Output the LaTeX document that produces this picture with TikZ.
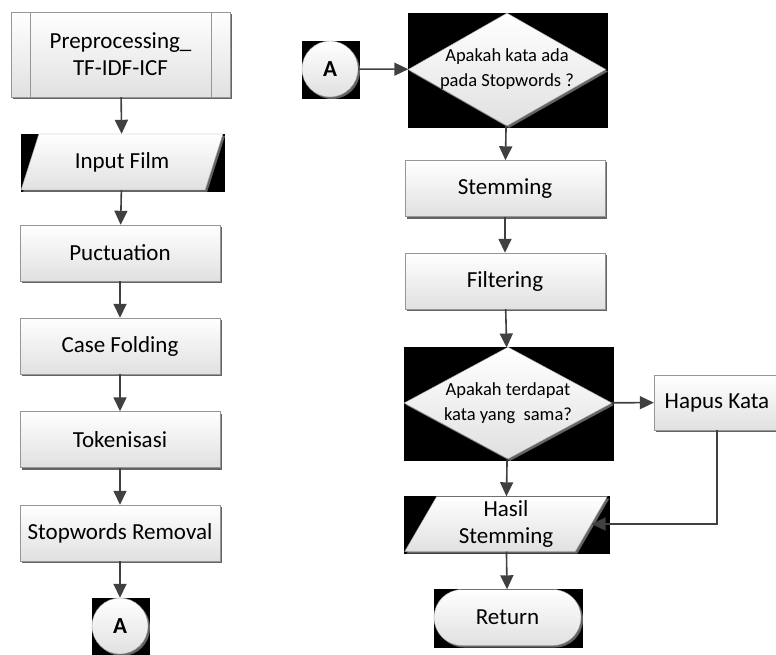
\documentclass[tikz,border=0pt]{standalone}
\usepackage{fontspec}
\setmainfont{Carlito}
\usepackage{tikz}
\usetikzlibrary{arrows.meta,calc,shapes.geometric,shapes.misc,shadows,backgrounds}
\definecolor{Edge}{RGB}{150, 150, 150}
\definecolor{Flow}{RGB}{64, 64, 64}
\definecolor{Shade}{RGB}{100, 100, 100}

\tikzset{
    box/.style={draw=Edge, top color=white, bottom color=black!12,
        drop shadow={shadow xshift=2pt, shadow yshift=-2pt, fill=Shade, opacity=1},
        font=\fontsize{23}{27}\selectfont, align=center, inner sep=2pt},
    process/.style={box, rectangle, minimum width=200pt, minimum height=56pt},
    io/.style={box, trapezium, trapezium left angle=66, trapezium right angle=114,
        trapezium stretches=true, minimum width=202pt, minimum height=56pt},
    decision/.style={box, diamond, aspect=1.75, inner sep=-8pt, minimum width=198pt, minimum height=113pt,
        font=\fontsize{18.5}{25}\selectfont},
    connector/.style={box, circle, minimum size=56pt, font=\bfseries\fontsize{23}{25}\selectfont},
    terminal/.style={box, rounded rectangle, minimum width=151pt, minimum height=56pt},
    flow/.style={draw=Flow, line width=1.6pt, -{Triangle[length=14pt,width=13pt]}},
    backdrop/.style={fill=black},
}

\begin{document}
\begin{tikzpicture}[x=1pt, y=-1pt]
    %% Background
    \useasboundingbox (0,0) rectangle (776,655);

    %% Left column
    \node[process, minimum width=219pt, minimum height=85pt] (pre) at (120.5,54.5) {Preprocessing\_\\TF-IDF-ICF};
    \draw[Edge] ([xshift=19pt]pre.north west) -- ([xshift=19pt]pre.south west);
    \draw[Edge] ([xshift=-19pt]pre.north east) -- ([xshift=-19pt]pre.south east);
    \node[io] (film) at (122,162) {Input Film};
    \node[process] (punc) at (120,253) {Puctuation};
    \node[process] (fold) at (120,346) {Case Folding};
    \node[process] (token) at (120,439.5) {Tokenisasi};
    \node[process] (stop) at (120,533) {Stopwords Removal};
    \node[connector] (conA) at (120,626) {A};

    %% Right column
    \node[connector] (conB) at (330,69) {A};
    \node[decision] (askstop) at (507,69.5) {Apakah kata ada\\pada Stopwords ?};
    \node[process] (stem) at (505,188.5) {Stemming};
    \node[process] (filt) at (505,281) {Filtering};
    \node[decision, minimum width=208pt, minimum height=112pt] (asksame) at (508,403) {Apakah terdapat\\kata yang\ \ sama?};
    \node[process, minimum width=126pt, minimum height=55pt] (hapus) at (717,402.5) {Hapus Kata};
    \node[io, minimum width=203pt, minimum height=55pt] (hasil) at (506,524) {Hasil\\Stemming};
    \node[terminal] (ret) at (507.5,617.5) {Return};

    %% Black backdrops
    \begin{scope}[on background layer]
        \foreach \n in {conA,conB,askstop,asksame,ret}
            \fill[backdrop] (\n.west |- \n.north) rectangle ($(\n.east |- \n.south)+(2,2)$);
        \foreach \n in {film,hasil}
            \fill[backdrop] (\n.bottom left corner |- \n.top right corner) rectangle ($(\n.top right corner |- \n.bottom left corner)+(2,2)$);
    \end{scope}

    %% Flow
    \draw[flow] (pre) -- (film);
    \draw[flow] (film) -- (punc);
    \draw[flow] (punc) -- (fold);
    \draw[flow] (fold) -- (token);
    \draw[flow] (token) -- (stop);
    \draw[flow] (stop) -- (conA);
    \draw[flow] (conB) -- (askstop);
    \draw[flow] (askstop) -- (stem);
    \draw[flow] (stem) -- (filt);
    \draw[flow] (filt) -- (asksame);
    \draw[flow] (asksame) -- (hapus);
    \draw[flow] (asksame) -- (hasil);
    \draw[flow] (hapus.south) |- (hasil.east);
    \draw[flow] (hasil) -- (ret);
\end{tikzpicture}
\end{document}
